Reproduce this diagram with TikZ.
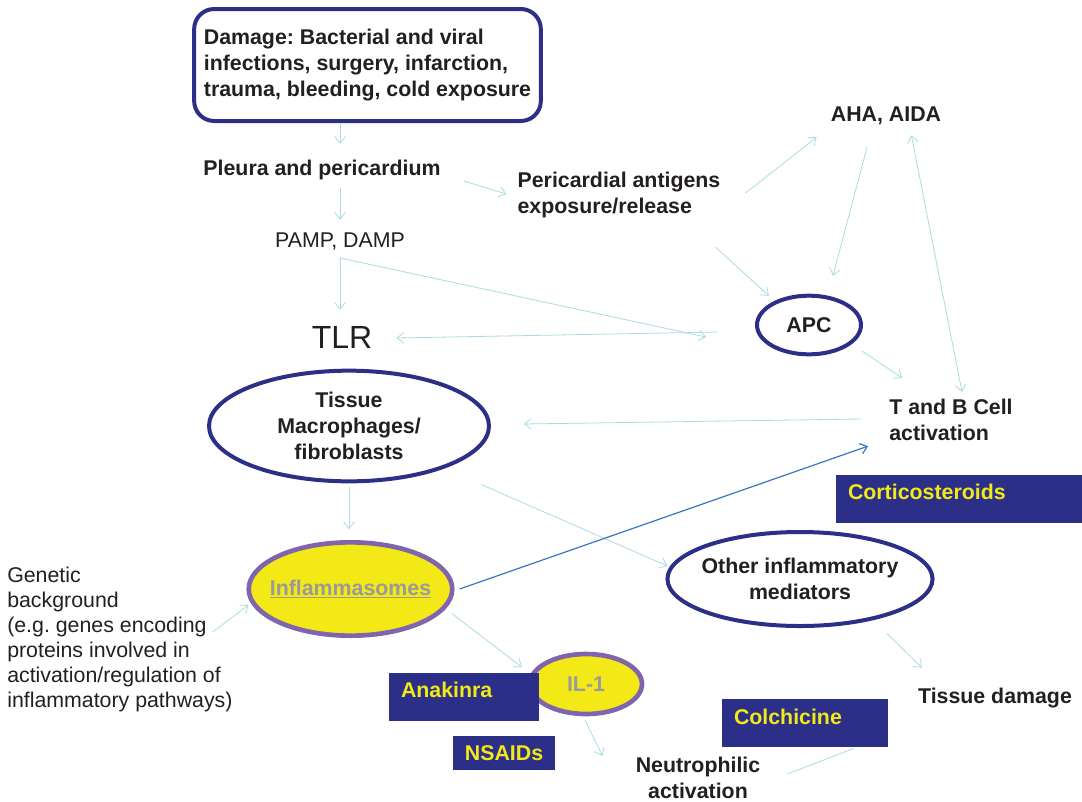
\documentclass[tikz,border=0pt]{standalone}
\usepackage{fontspec}
\setmainfont{Liberation Sans}
\usetikzlibrary{shapes.geometric,arrows.meta,calc}
\definecolor{navy}{HTML}{2C2F88}
\definecolor{lilac}{HTML}{7F64AE}
\definecolor{lemon}{HTML}{F2E917}
\definecolor{paleline}{HTML}{A9DBE1}
\definecolor{deepblue}{HTML}{3A74BD}
\definecolor{ink}{HTML}{231F20}
\definecolor{greytxt}{HTML}{9A9A9A}
\frenchspacing

\begin{document}
\begin{tikzpicture}[x=0.75pt,y=-0.75pt,
  every node/.style={inner sep=0pt,text=ink,font=\fontsize{16}{19.5}\selectfont},
  lbl/.style={font=\fontsize{16}{19.5}\selectfont\bfseries,align=center},
  navyell/.style={ellipse,draw=navy,line width=3pt,fill=white,lbl},
  yellell/.style={ellipse,draw=lilac,line width=3.5pt,fill=lemon,lbl,text=greytxt},
  drugbox/.style={rectangle,fill=navy},
  drugtxt/.style={lbl,text=lemon},
  arr/.style={draw=paleline,line width=0.6pt,-{Straight Barb[length=5pt,width=8pt]}}]
  \useasboundingbox (0,0) rectangle (1082,801);
  \node[rectangle,draw=navy,line width=3pt,rounded corners=15pt,
    minimum width=260pt,minimum height=84pt,align=left,
    font=\fontsize{16}{19.5}\selectfont\bfseries] (damage) at (367.5,65)
    {Damage: Bacterial and viral\\infections, surgery, infarction,\\trauma, bleeding, cold exposure};
  \node[lbl] (pleura) at (322,170) {Pleura and pericardium};
  \node (pamp) at (340,242) {PAMP, DAMP};
  \node[lbl,align=left] (peri) at (619,195) {Pericardial antigens\\exposure/release};
  \node[lbl] (aha) at (886,116) {AHA, AIDA};
  \node[navyell,minimum width=78pt,minimum height=44pt] (apc) at (809,325) {APC};
  \node[font=\fontsize{24}{28}\selectfont] (tlr) at (342,337) {TLR};
  \node[lbl,align=left] (tb) at (951,420) {T and B Cell\\activation};
  \node[navyell,minimum width=210pt,minimum height=83pt] (mac) at (349,426)
    {Tissue\\Macrophages/\\fibroblasts};
  \node[drugbox,minimum width=184.5pt,minimum height=36pt] (cortico) at (959,499) {};
  \node[drugtxt,anchor=west] (corticotxt) at ($(cortico.north west)+(12,17)$) {Corticosteroids};
  \node[yellell,inner xsep=-6.5pt,minimum height=70pt] (infl) at (350.5,589)
    {\underline{Inflammasomes}};
  \node[navyell,inner xsep=-3.5pt,minimum height=70.5pt] (other) at (800,579)
    {Other inflammatory\\mediators};
  \node[anchor=west,align=left,font=\fontsize{16}{18.75}\selectfont] (gen) at (7,639)
    {Genetic\\background\\(e.g. genes encoding\\proteins involved in\\activation/regulation of\\inflammatory pathways)};
  \node[yellell,minimum width=84pt,minimum height=45pt] (il1) at (586,684) {IL-1};
  \node[drugbox,minimum width=112.5pt,minimum height=36pt] (anakinra) at (464,697) {};
  \node[drugtxt,anchor=west] (anakinratxt) at ($(anakinra.north west)+(12,17)$) {Anakinra};
  \node[drugbox,minimum width=76.5pt,minimum height=25.5pt,drugtxt] (nsaids) at (504,753) {NSAIDs};
  \node[drugbox,minimum width=124.5pt,minimum height=36pt] (colch) at (805,723) {};
  \node[drugtxt,anchor=west] (colchtxt) at ($(colch.north west)+(12,18)$) {Colchicine};
  \node[lbl] (tdam) at (995,698) {Tissue damage};
  \node[lbl] (neutro) at (698,778) {Neutrophilic\\activation};

  \draw[arr,shorten >=12pt] (damage.south -| pamp) -- (pleura.north -| pamp);
  \draw[arr,shorten <=6pt,shorten >=10pt] (pleura.south -| pamp) -- (pamp.north);
  \draw[arr] ($(pleura.east)+(23,11)$) -- ($(peri.west)+(-11,-1)$);
  \draw[arr] ($(peri.east)+(25,-2)$) -- ($(aha.south west)+(-14,12)$);
  \draw[arr] ($(peri.south east)+(-5,29)$) -- ($(apc.north west)+(-2,-7)$);
  \draw[arr] ($(aha.south)+(-19,22)$) -- ($(apc.north)+(24,-18)$);
  \draw[arr,{Straight Barb[length=5pt,width=8pt]}-{Straight Barb[length=5pt,width=8pt]}]
    ($(aha.south east)+(-30,10)$) -- ($(tb.north)+(11,-7)$);
  \draw[arr,shorten <=5pt,shorten >=12pt] (pamp.south) -- (pamp.south |- tlr.north);
  \draw[arr] ($(pamp.south)+(0,7)$) -- ($(apc.west)+(-49,12)$);
  \draw[arr] ($(apc.west)+(-37,7)$) -- ($(tlr.east)+(24,1)$);
  \draw[arr] ($(apc.south east)+(15,4)$) -- ($(tb.north west)+(13,-21)$);
  \draw[arr] ($(tb.west)+(-28,-1)$) -- ($(mac.east)+(33,-2)$);
  \draw[arr,shorten <=3pt,shorten >=8pt] (mac.south) -- (mac.south |- infl.north);
  \draw[arr] ($(mac.south east)+(32,18)$) -- ($(other.west)+(2,-13)$);
  \draw[arr,draw=deepblue,line width=0.9pt] ($(infl.east)+(5,0)$) -- ($(tb.south west)+(-21,5)$);
  \draw[arr] ($(gen.east)+(-20,-7)$) -- ($(infl.west)+(2,16)$);
  \draw[arr] ($(infl.south east)+(28,-10)$) -- ($(il1.north west)+(-23,6)$);
  \draw[arr] ($(il1.south)+(-1,4)$) -- ($(neutro.north west)+(-33,-1)$);
  \draw[arr] ($(other.south east)+(-8,20)$) -- ($(tdam.north west)+(4,-20)$);
  \draw[draw=paleline,line width=0.6pt] ($(neutro.east)+(27,-4)$) -- ($(colch.south)+(49,1)$);
\end{tikzpicture}
\end{document}
